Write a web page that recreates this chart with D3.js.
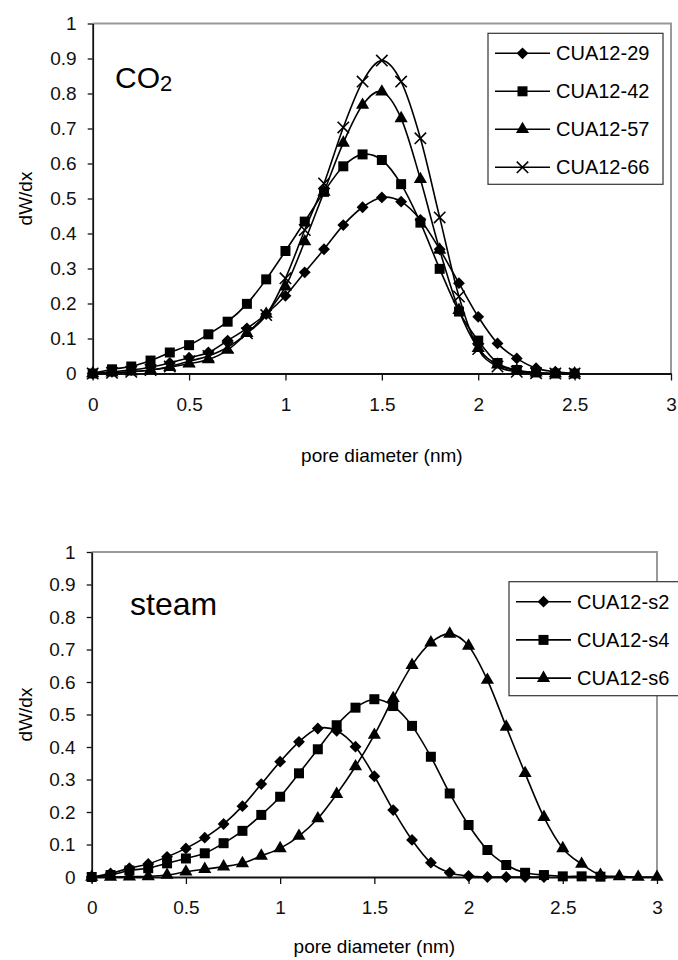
<!DOCTYPE html>
<html>
<head>
<meta charset="utf-8">
<script src="https://cdn.jsdelivr.net/npm/d3@7/dist/d3.min.js"></script>
<style>
  body { margin: 0; background: #fff; }
  svg { display: block; font-family: "Liberation Sans", Arial, sans-serif; }
</style>
</head>
<body>
<svg class="chart" width="678" height="960"></svg>
<script>
// axis ticks
var xTicks = [0, 0.5, 1, 1.5, 2, 2.5, 3];
var yTicks = [0, 0.1, 0.2, 0.3, 0.4, 0.5, 0.6, 0.7, 0.8, 0.9, 1];

// CO2 activated samples, pore diameter 0 - 2.5 nm
var co2X = [0, 0.1, 0.2, 0.3, 0.4, 0.5, 0.6, 0.7, 0.8, 0.9, 1, 1.1, 1.2, 1.3, 1.4, 1.5, 1.6, 1.7, 1.8, 1.9, 2, 2.1, 2.2, 2.3, 2.4, 2.5];
var co2Names = ["CUA12-29", "CUA12-42", "CUA12-57", "CUA12-66"];
var cua12_29 = [0, 0.005, 0.01, 0.018, 0.03, 0.045, 0.06, 0.094, 0.129, 0.17, 0.222, 0.289, 0.355, 0.424, 0.475, 0.503, 0.491, 0.439, 0.355, 0.258, 0.162, 0.086, 0.043, 0.015, 0.005, 0];
var cua12_42 = [0, 0.012, 0.02, 0.037, 0.06, 0.081, 0.112, 0.148, 0.199, 0.269, 0.35, 0.434, 0.519, 0.592, 0.626, 0.61, 0.541, 0.431, 0.299, 0.177, 0.094, 0.03, 0.01, 0.003, 0, 0];
var cua12_57 = [0, 0.002, 0.005, 0.01, 0.018, 0.028, 0.04, 0.067, 0.115, 0.17, 0.248, 0.377, 0.519, 0.659, 0.767, 0.805, 0.729, 0.555, 0.353, 0.181, 0.072, 0.025, 0.008, 0.002, 0, 0];
var cua12_66 = [0, 0.002, 0.005, 0.01, 0.02, 0.035, 0.05, 0.075, 0.115, 0.167, 0.272, 0.41, 0.543, 0.703, 0.834, 0.894, 0.834, 0.672, 0.446, 0.22, 0.07, 0.02, 0.005, 0.001, 0, 0];

// steam activated samples, pore diameter 0 - 3 nm
var steamX = [0, 0.1, 0.2, 0.3, 0.4, 0.5, 0.6, 0.7, 0.8, 0.9, 1, 1.1, 1.2, 1.3, 1.4, 1.5, 1.6, 1.7, 1.8, 1.9, 2, 2.1, 2.2, 2.3, 2.4, 2.5, 2.6, 2.7, 2.8, 2.9, 3];
var steamNames = ["CUA12-s2", "CUA12-s4", "CUA12-s6"];
var cua12_s2 = [0, 0.011, 0.027, 0.04, 0.062, 0.088, 0.121, 0.163, 0.218, 0.286, 0.355, 0.416, 0.457, 0.45, 0.401, 0.31, 0.206, 0.114, 0.044, 0.013, 0.003, 0, 0, 0, 0];
var cua12_s4 = [0, 0.006, 0.02, 0.027, 0.042, 0.057, 0.073, 0.104, 0.142, 0.191, 0.247, 0.319, 0.393, 0.467, 0.521, 0.547, 0.526, 0.465, 0.37, 0.257, 0.16, 0.083, 0.037, 0.013, 0.006, 0.002, 0.002, 0.001];
var cua12_s6 = [0, 0, 0.001, 0.002, 0.006, 0.016, 0.024, 0.032, 0.042, 0.065, 0.088, 0.126, 0.18, 0.255, 0.34, 0.437, 0.55, 0.652, 0.721, 0.748, 0.711, 0.606, 0.462, 0.319, 0.184, 0.088, 0.04, 0.006, 0.002, 0, 0];

var chart = d3.select(".chart");

// excel style markers
var xMark = {
    draw: function(ctx, size) {
        var r = Math.sqrt(size) / 2;
        ctx.moveTo(-r, -r); ctx.lineTo(r, r);
        ctx.moveTo(r, -r); ctx.lineTo(-r, r);
    }
};
var markers = {
    diamond: { type: d3.symbolSquare, size: 70, rotate: 45, fill: "#000", stroke: "none" },
    square: { type: d3.symbolSquare, size: 100, rotate: 0, fill: "#000", stroke: "none" },
    triangle: { type: d3.symbolTriangle, size: 75, rotate: 0, fill: "#000", stroke: "none" },
    cross: { type: xMark, size: 130, rotate: 0, fill: "none", stroke: "#000" }
};

drawChart({
    left: 92.7, right: 671, top: 23.5, bottom: 373.5,
    xMax: 3,
    xs: co2X,
    series: [cua12_29, cua12_42, cua12_57, cua12_66],
    names: co2Names,
    marks: ["diamond", "square", "triangle", "cross"],
    legend: { x: 488, y: 33.3, w: 175, h: 151, rowY: 53.3, step: 38 },
    xTitleY: 462,
    label: "co2"
});

drawChart({
    left: 91.7, right: 657, top: 552, bottom: 877,
    xMax: 3,
    xs: steamX,
    series: [cua12_s2, cua12_s4, cua12_s6],
    names: steamNames,
    marks: ["diamond", "square", "triangle"],
    legend: { x: 509, y: 581.7, w: 200, h: 114, rowY: 601.7, step: 38.2 },
    xTitleY: 953,
    label: "steam"
});

function drawChart(o) {

    var x = d3.scaleLinear().domain([0, o.xMax]).range([o.left, o.right]);
    var y = d3.scaleLinear().domain([0, 1]).range([o.bottom, o.top]);
    var g = chart.append("g");

    // grey frame on top and right
    g.append("path")
        .attr("d", "M" + o.left + "," + o.top + "H" + o.right + "V" + o.bottom)
        .attr("fill", "none")
        .attr("stroke", "#999")
        .attr("stroke-width", 2);

    // axes
    var xAxis = g.append("g")
        .attr("transform", "translate(0," + o.bottom + ")")
        .call(d3.axisBottom(x).tickValues(xTicks).tickFormat(String).tickSizeInner(7).tickSizeOuter(0).tickPadding(17));
    var yAxis = g.append("g")
        .attr("transform", "translate(" + o.left + ",0)")
        .call(d3.axisLeft(y).tickValues(yTicks).tickFormat(String).tickSizeInner(5).tickSizeOuter(0).tickPadding(11));
    [xAxis, yAxis].forEach(function(a) {
        a.select(".domain").attr("stroke", "#111").attr("stroke-width", 1.8);
        a.selectAll(".tick line").attr("stroke", "#111").attr("stroke-width", 1.3);
        a.selectAll(".tick text").attr("font-size", 19).attr("fill", "#111")
            .attr("font-family", "Liberation Sans, Arial, sans-serif");
    });

    // axis titles
    g.append("text")
        .attr("x", (o.left + o.right) / 2)
        .attr("y", o.xTitleY)
        .attr("text-anchor", "middle")
        .attr("font-size", 19)
        .text("pore diameter (nm)");
    g.append("text")
        .attr("transform", "translate(32," + ((o.top + o.bottom) / 2) + ") rotate(-90)")
        .attr("text-anchor", "middle")
        .attr("font-size", 19)
        .text("dW/dx");

    // smoothed lines and markers
    var line = d3.line()
        .x(function(d, i) { return x(o.xs[i]); })
        .y(function(d) { return y(d); })
        .curve(d3.curveCatmullRom.alpha(0));

    o.series.forEach(function(s, k) {
        g.append("path")
            .attr("d", line(s))
            .attr("fill", "none")
            .attr("stroke", "#000")
            .attr("stroke-width", 1.6);

        var m = markers[o.marks[k]];
        g.selectAll("path.m" + k)
            .data(s)
            .enter().append("path")
            .attr("class", "m" + k)
            .attr("d", d3.symbol().type(m.type).size(m.size))
            .attr("transform", function(d, i) {
                return "translate(" + x(o.xs[i]) + "," + y(d) + ") rotate(" + m.rotate + ")";
            })
            .attr("fill", m.fill)
            .attr("stroke", m.stroke)
            .attr("stroke-width", 1.6);
    });

    // legend box
    var L = o.legend;
    var leg = g.append("g");
    leg.append("rect")
        .attr("x", L.x).attr("y", L.y).attr("width", L.w).attr("height", L.h)
        .attr("fill", "#fff")
        .attr("stroke", "#333")
        .attr("stroke-width", 1.2);
    o.names.forEach(function(name, k) {
        var cy = L.rowY + k * L.step;
        var m = markers[o.marks[k]];
        leg.append("line")
            .attr("x1", L.x + 7).attr("x2", L.x + 62)
            .attr("y1", cy).attr("y2", cy)
            .attr("stroke", "#000").attr("stroke-width", 1.6);
        leg.append("path")
            .attr("d", d3.symbol().type(m.type).size(m.size))
            .attr("transform", "translate(" + (L.x + 34.5) + "," + cy + ") rotate(" + m.rotate + ")")
            .attr("fill", m.fill)
            .attr("stroke", m.stroke)
            .attr("stroke-width", 1.6);
        leg.append("text")
            .attr("x", L.x + 68)
            .attr("y", cy)
            .attr("dy", "0.35em")
            .attr("font-size", 20)
            .text(name);
    });

    // gas label inside the plot
    if (o.label == "co2") {
        var t = g.append("text")
            .attr("x", 115).attr("y", 88)
            .attr("font-size", 30);
        t.append("tspan").text("CO");
        t.append("tspan").attr("font-size", 22).attr("dy", 3).text("2");
    } else {
        g.append("text")
            .attr("x", 130).attr("y", 615)
            .attr("font-size", 32)
            .text("steam");
    }
}
</script>
</body>
</html>
